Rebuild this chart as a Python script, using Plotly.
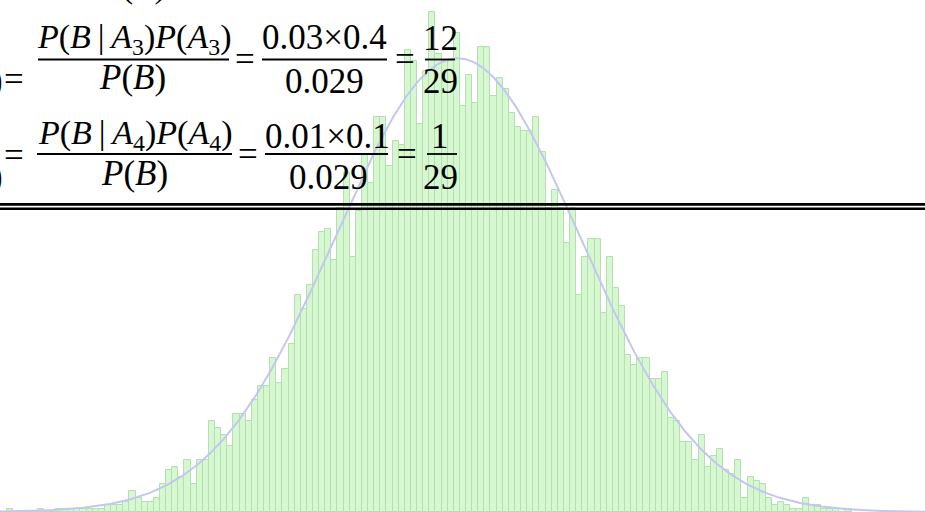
import numpy as np
import plotly.graph_objects as go

# Histogram: counts per bin, bins of equal width starting at BIN_START
BIN_START = -3.70
BIN_WIDTH = 0.05
counts = [
    1, 0, 0, 0, 0, 1, 0, 0, 1, 1,
    1, 1, 1, 1, 1, 1, 2, 2, 2, 3,
    6, 4, 3, 3, 4, 8, 12, 13, 10, 15,
    8, 15, 15, 26, 24, 22, 19, 28, 28, 26,
    32, 36, 36, 44, 37, 41, 48, 62, 58, 65,
    75, 80, 81, 72, 87, 97, 73, 86, 102, 94,
    113, 113, 99, 106, 105, 132, 129, 111, 126, 143,
    131, 129, 129, 137, 116, 125, 117, 133, 133, 119,
    124, 121, 114, 110, 109, 109, 113, 103, 87, 92,
    87, 77, 87, 62, 73, 78, 78, 57, 73, 64,
    59, 45, 42, 44, 44, 38, 38, 40, 27, 26,
    20, 20, 15, 22, 13, 16, 18, 12, 11, 15,
    4, 10, 9, 8, 4, 2, 3, 2, 1, 1,
    4, 2, 2, 1, 1, 1, 0, 1,
]

counts = np.array(counts, dtype=float)
centers = BIN_START + BIN_WIDTH * (np.arange(len(counts)) + 0.5)

# Normal fit from the binned sample
n_total = counts.sum()
mu = (counts * centers).sum() / n_total
sd = np.sqrt((counts * (centers - mu) ** 2).sum() / n_total)

X_RANGE = [-3.757, 3.800]
Y_RANGE = [0, 146.3]
W, H = 925, 512

xs = np.linspace(X_RANGE[0], X_RANGE[1], 600)
fit = n_total * BIN_WIDTH * np.exp(-0.5 * ((xs - mu) / sd) ** 2) / (sd * np.sqrt(2 * np.pi))

fig = go.Figure()
fig.add_trace(go.Bar(
    x=centers, y=counts, width=BIN_WIDTH,
    marker=dict(color="rgb(214,248,209)",
                line=dict(color="rgb(182,222,176)", width=1)),
    hoverinfo="skip",
))
fig.add_trace(go.Scatter(
    x=xs, y=fit, mode="lines",
    line=dict(color="rgb(196,198,242)", width=2),
    hoverinfo="skip",
))

SERIF = "Liberation Serif, Times New Roman, serif"
FS = 35
THIN = "\u2009"


def px(x):
    return x / W


def py(y):
    return 1 - y / H


annotations = []


def label(text, x, y, size=FS, xanchor="center"):
    annotations.append(dict(
        text=text, x=px(x), y=py(y), xref="paper", yref="paper",
        xanchor=xanchor, yanchor="middle", showarrow=False,
        font=dict(family=SERIF, size=size, color="black"),
    ))


shapes = []


def hline(x0, x1, y, width=1.8):
    shapes.append(dict(
        type="line", xref="paper", yref="paper",
        x0=px(x0), x1=px(x1), y0=py(y), y1=py(y),
        line=dict(color="black", width=width), layer="above",
    ))


PB = "<i>P</i>(<i>B</i>)"


def cond(k):
    return ("<i>P</i>(<i>B</i>" + THIN + "|" + THIN + "<i>A</i><sub>%d</sub>)"
            "<i>P</i>(<i>A</i><sub>%d</sub>)") % (k, k)


# denominator of the previous line, mostly above the page
label(PB, 132, -15)

# first line: posterior for A3
label(")", 5, 80, xanchor="right")
label("=", 14, 79)
label(cond(3), 134, 38.5, size=34)
hline(38, 229, 59.5)
label(PB, 132.5, 77)
label("=", 244.5, 59)
label("0.03×0.4", 324, 37)
hline(262, 387, 59.5)
label("0.029", 324.5, 81)
label("=", 405, 59)
label("12", 440, 38)
hline(425, 455, 59.5)
label("29", 440, 81)

# second line: posterior for A4
label(")", 5, 176, xanchor="right")
label("=", 14, 155)
label(cond(4), 135, 134.5, size=34)
hline(37, 232, 154)
label(PB, 134.5, 173)
label("=", 247.5, 154)
label("0.01×0.1", 327, 136)
hline(265, 388, 154)
label("0.029", 328.5, 177.5)
label("=", 406.5, 154)
label("1", 440, 136)
hline(427, 457, 154)
label("29", 440, 177.5)

# double rule under the formulas
hline(0, W, 204.4, width=2.7)
hline(0, W, 208.8, width=2.5)

fig.update_layout(
    width=W, height=H,
    margin=dict(l=0, r=0, t=0, b=0),
    paper_bgcolor="white", plot_bgcolor="white",
    showlegend=False, bargap=0,
    xaxis=dict(range=X_RANGE, visible=False, fixedrange=True),
    yaxis=dict(range=Y_RANGE, visible=False, fixedrange=True),
    annotations=annotations, shapes=shapes,
)

fig.write_html("out.html", config={"displayModeBar": False})
